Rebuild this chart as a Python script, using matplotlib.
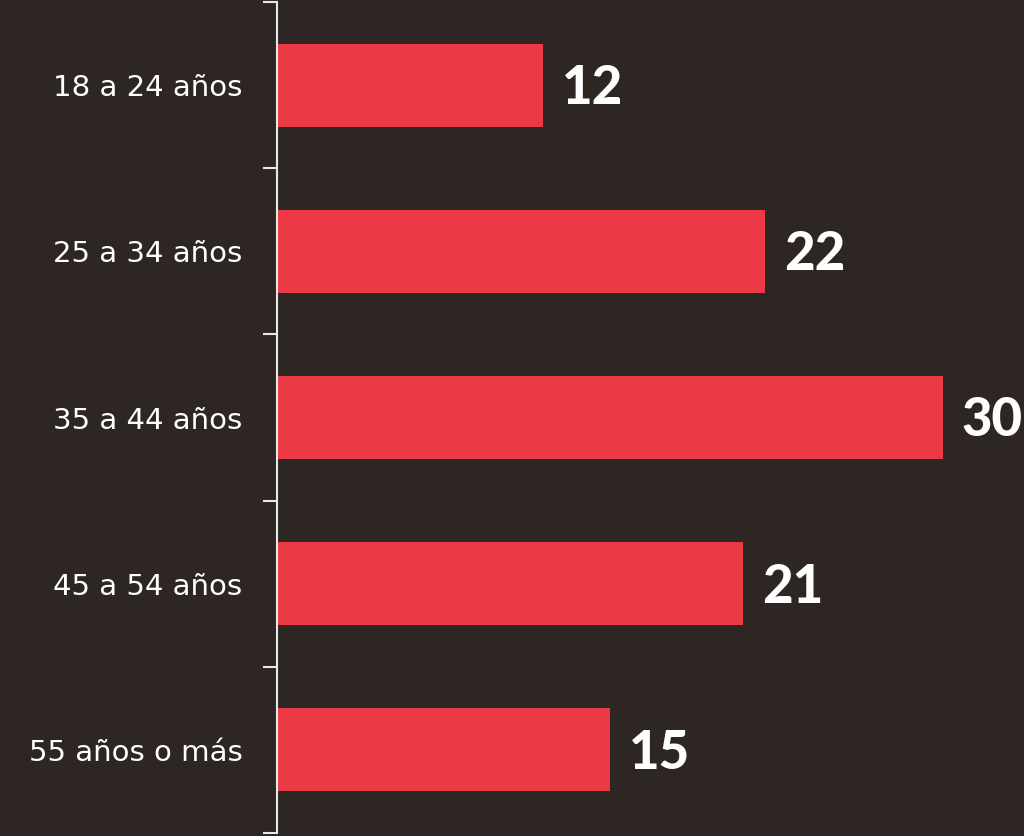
import matplotlib
matplotlib.use("Agg")
import matplotlib.pyplot as plt

# ------------- DATA -----------------
categories = ["18 a 24 años", "25 a 34 años", "35 a 44 años", "45 a 54 años", "55 años o más"]
values = [12, 22, 30, 21, 15]
# ------------------------------------

bg = "#2d2622"
bar_color = "#ec3946"

fig = plt.figure(figsize=(10.24, 8.36), dpi=100)
fig.patch.set_facecolor(bg)
ax = fig.add_axes([277 / 1024, 3 / 836, 747 / 1024, 831 / 836])
ax.set_facecolor(bg)

pos = list(range(len(categories)))
ax.barh(pos, values, height=0.5, color=bar_color)
ax.set_ylim(len(categories) - 0.5, -0.5)
ax.set_xlim(0, 33.65)

# value labels next to the bars
for p, v in zip(pos, values):
    ax.text(v + 0.85, p + 0.02, str(v), va="center", ha="left", color="white",
            fontsize=38, fontweight="black", family="Lato", clip_on=False)

# ticks sit between the categories, labels in the middle
ax.set_yticks([p + 0.5 for p in [-1] + pos])
ax.set_yticklabels([])
ax.set_yticks(pos, minor=True)
ax.set_yticklabels(categories, minor=True, fontsize=21, color="white",
                   family="DejaVu Sans", fontweight="normal")
ax.tick_params(axis="y", which="major", length=10, width=1.5, color="#e8e8e8")
ax.tick_params(axis="y", which="minor", length=0, pad=25)
ax.set_xticks([])

for s in ["top", "right", "bottom"]:
    ax.spines[s].set_visible(False)
ax.spines["left"].set_color("#e8e8e8")
ax.spines["left"].set_linewidth(1.5)

fig.savefig("out.png", dpi=100, facecolor=bg)
